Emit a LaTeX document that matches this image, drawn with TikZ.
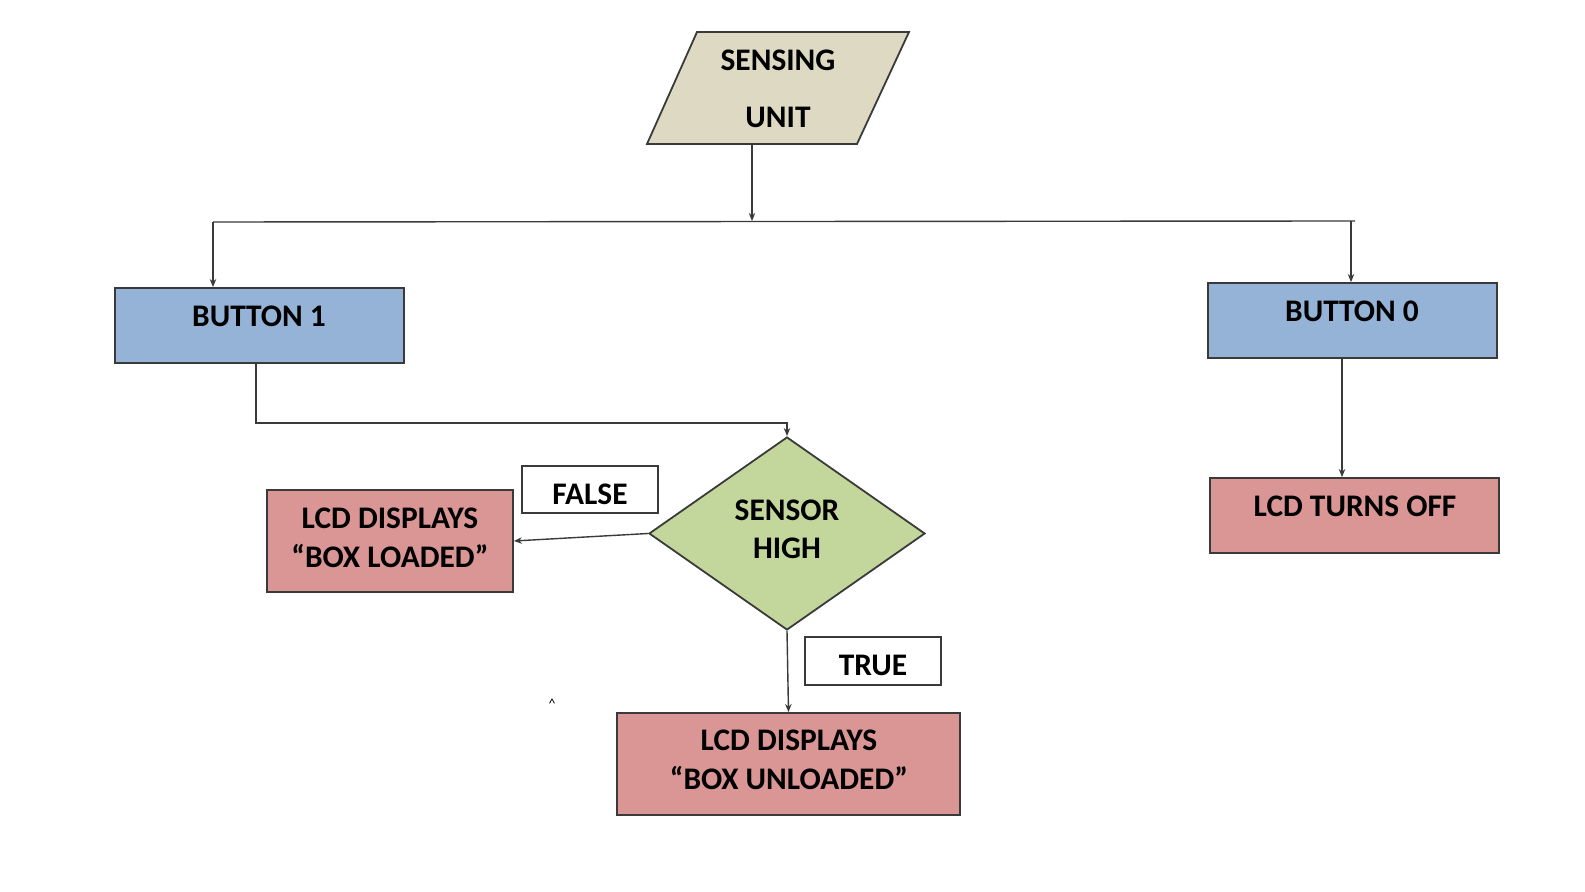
\documentclass[tikz,border=0pt]{standalone}
\usepackage{fontspec}
\setmainfont{Carlito}
\usetikzlibrary{arrows.meta,shapes.geometric}
\definecolor{tanfill}{HTML}{DDD9C3}
\definecolor{bluefill}{HTML}{95B3D7}
\definecolor{redfill}{HTML}{D99694}
\definecolor{greenfill}{HTML}{C3D69B}
\definecolor{edge}{HTML}{3A3A3A}
\tikzset{
  x=0.5pt,y=-0.5pt,
  box/.style={draw=edge,line width=0.9pt,rectangle,inner sep=0pt},
  txt/.style={font=\bfseries\fontsize{15.7}{18}\selectfont,inner sep=0pt,anchor=center},
  arr/.style={draw=edge,line width=0.7pt,-{Stealth[length=4pt,width=3.2pt]}},
  ln/.style={draw=edge,line width=0.7pt},
}
\begin{document}
\begin{tikzpicture}
\fill[white] (0,0) rectangle (1585,892);
\useasboundingbox (0,0) rectangle (1585,892);
% sensing unit
\draw[fill=tanfill,draw=edge,line width=0.9pt] (697,32) -- (909,32) -- (857,144) -- (647,144) -- cycle;
\node[txt] (s1) at (778,60) {SENSING};
\node[txt] (s2) at (778,117) {UNIT};
\coordinate (sb) at (752,144);
\coordinate (sj) at (752,221);
\coordinate (jl) at (213,222);
\coordinate (jr) at (1351,221);
\coordinate (je) at (1355,221);
% boxes
\node[box,fill=bluefill,minimum width=144.5pt,minimum height=37.5pt] (b1) at (259.5,325.5) {};
\node[txt] (b1t) at (259,316) {BUTTON 1};
\node[box,fill=bluefill,minimum width=144.5pt,minimum height=37.5pt] (b0) at (1352.5,320.5) {};
\node[txt] (b0t) at (1352,311) {BUTTON 0};
\node[box,fill=redfill,minimum width=144.5pt,minimum height=37.5pt] (off) at (1354.5,515.5) {};
\node[txt] (offt) at (1355,506) {LCD TURNS OFF};
\node[box,fill=redfill,minimum width=123pt,minimum height=51pt] (ld) at (390,541) {};
\node[txt] (ld1) at (390,518) {LCD DISPLAYS};
\node[txt] (ld2) at (390,556) {“BOX LOADED”};
\node[box,fill=redfill,minimum width=171.5pt,minimum height=51pt] (ul) at (788.5,764) {};
\node[txt] (ul1) at (789,740) {LCD DISPLAYS};
\node[txt] (ul2) at (789,778) {“BOX UNLOADED”};
\node[box,fill=white,minimum width=68pt,minimum height=23.5pt] (fb) at (590,489.5) {};
\node[txt] (fbt) at (590,494) {FALSE};
\node[box,fill=white,minimum width=68pt,minimum height=24pt] (tb) at (873,661) {};
\node[txt] (tbt) at (873,665) {TRUE};
\node[diamond,draw=edge,line width=0.9pt,fill=greenfill,minimum width=138pt,minimum height=96.5pt,inner sep=0pt] (dia) at (787,533.5) {};
\node[txt] (d1) at (787,510) {SENSOR};
\node[txt] (d2) at (787,548) {HIGH};
\node[font=\fontsize{7}{8}\selectfont,inner sep=0pt] (caret) at (552,704) {\textasciicircum};
% connectors
\draw[arr] (sb) -- (sj);
\draw[ln] (jl) -- (je);
\draw[arr] (jl) -- (jl |- b1.north);
\draw[arr] (jr) -- (jr |- b0.north);
\coordinate (b1s) at (256,363);
\draw[arr] (b1s) -- (256,423) -| (dia.north);
\draw[arr] (dia.west) -- (ld.east);
\draw[arr] (dia.south) -- (ul.north);
\coordinate (b0s) at (1342,358);
\draw[arr] (b0s) -- (b0s |- off.north);
\end{tikzpicture}
\end{document}
